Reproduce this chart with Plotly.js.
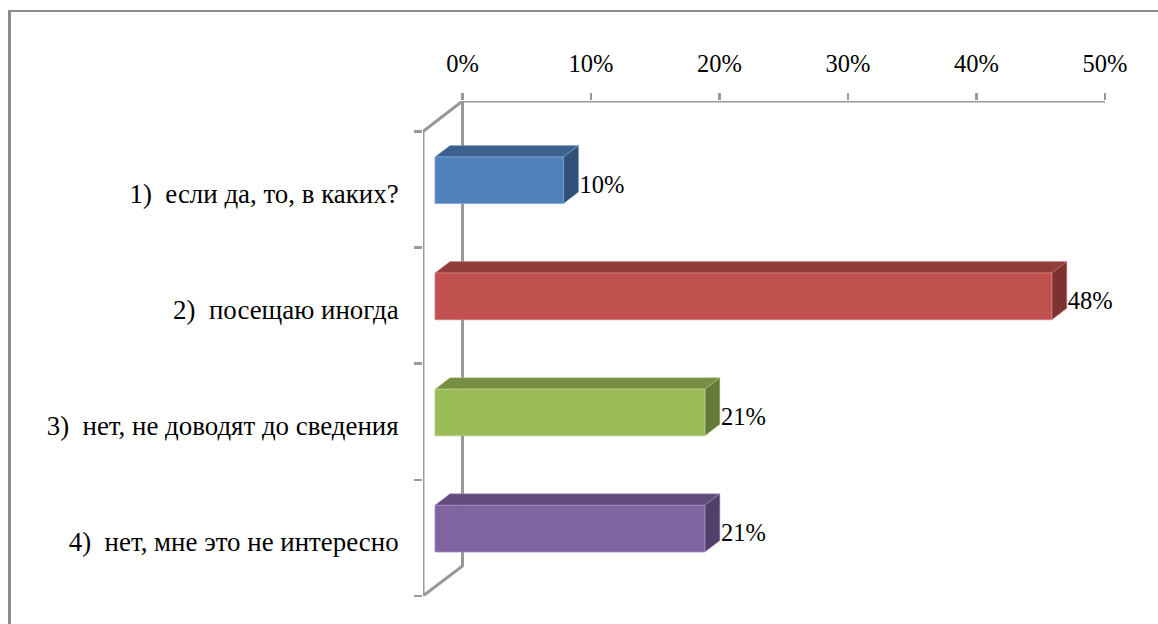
<!DOCTYPE html>
<html>
<head>
<meta charset="utf-8">
<script src="https://cdn.plot.ly/plotly-3.0.1.min.js"></script>
<style>
html,body{margin:0;padding:0;background:#fff;width:1158px;height:624px;overflow:hidden}
#frame{position:absolute;left:8px;top:10px;width:1150px;height:614px;border-left:3px solid #8c8c8c;border-top:2px solid #8c8c8c;box-sizing:border-box}
#chart{position:absolute;left:0;top:0;width:1158px;height:624px}
</style>
</head>
<body>
<div id="frame"></div>
<div id="chart"></div>
<script>
const categories = ["1)\u00a0\u00a0если да, то, в каких?", "2)\u00a0\u00a0посещаю иногда", "3)\u00a0\u00a0нет, не доводят до сведения", "4)\u00a0\u00a0нет, мне это не интересно"];
const values = [10, 48, 21, 21];
const percentTicks = [0, 10, 20, 30, 40, 50];
const frontColors = ["#4F81BD", "#C0504D", "#9BBB59", "#8064A2"];
const topColors = ["#3C618F", "#913D3B", "#768E44", "#614C7B"];
const sideColors = ["#32517A", "#7B3331", "#637A39", "#533F6B"];
const edgeColors = ["#7FA3CF", "#D57F7C", "#B7D07F", "#A28CC0"];

// projection of the chart's fake depth, in axis units
const wallDx = -3.074, wallDy = 0.2624, backBottom = 3.742;
const barBase = -2.14, depthDx = 1.167, depthDy = 0.099;
const barTop = 0.219, barHeight = 0.402;
const FONT = '"Liberation Serif", "Times New Roman", serif';
const GRAY = '#999999';

const traces = [];
// walls and the value axis line, which starts at 0 rather than at the plot edge
traces.push({type:'scatter', mode:'lines',
  x:[50,0,0,wallDx,wallDx,0], y:[-wallDy,-wallDy,backBottom,4,0,-wallDy],
  line:{color:GRAY,width:3}, hoverinfo:'skip', cliponaxis:false});

values.forEach((v,i)=>{
  const yT = i+barTop, yB = yT+barHeight, xL = barBase, xR = barBase+v;
  traces.push({type:'scatter', mode:'lines', fill:'toself', fillcolor:topColors[i],
    x:[xL,xL+depthDx,xR+depthDx,xR,xL], y:[yT,yT-depthDy,yT-depthDy,yT,yT],
    line:{color:edgeColors[i],width:0.5}, hoverinfo:'skip'});
  traces.push({type:'scatter', mode:'lines', fill:'toself', fillcolor:sideColors[i],
    x:[xR,xR+depthDx,xR+depthDx,xR,xR], y:[yT,yT-depthDy,yB-depthDy,yB,yT],
    line:{color:edgeColors[i],width:0.5}, hoverinfo:'skip'});
  traces.push({type:'scatter', mode:'lines', fill:'toself', fillcolor:frontColors[i],
    x:[xL,xR,xR,xL,xL], y:[yT,yT,yB,yB,yT],
    line:{color:edgeColors[i],width:0.8}, hoverinfo:'skip'});
});
traces.push({type:'scatter', mode:'text',
  x:values.map(v=>v+barBase+depthDx+0.08), y:values.map((v,i)=>i+0.475),
  text:values.map(v=>v+'%'), textposition:'middle right',
  textfont:{family:FONT,size:24.5,color:'#000'}, hoverinfo:'skip', cliponaxis:false});
// invisible carrier for the category labels axis
traces.push({type:'scatter', mode:'none', x:[0], y:[0], yaxis:'y2', hoverinfo:'skip'});

const L = 423, R = 1105, T = 100.5, B = 596;
const yRange = [4, -wallDy];
const layout = {
  width:1158, height:624, showlegend:false,
  margin:{l:L, r:1158-R, t:T, b:624-B, pad:0},
  paper_bgcolor:'rgba(0,0,0,0)', plot_bgcolor:'rgba(0,0,0,0)',
  font:{family:FONT,size:24.5,color:'#000'},
  xaxis:{side:'top', range:[wallDx,50], tickmode:'array', tickvals:percentTicks,
    ticktext:percentTicks.map(t=>t+'%'), ticks:'outside', ticklen:7, tickwidth:2.6, tickcolor:GRAY,
    showline:false, showgrid:false, zeroline:false,
    ticklabelstandoff:11, tickfont:{family:FONT,size:24.5,color:'#000'}},
  yaxis:{range:yRange, tickmode:'array', tickvals:[0,1,2,3,4], ticktext:['','','','',''],
    ticks:'outside', ticklen:8, tickwidth:2.6, tickcolor:GRAY, showgrid:false, zeroline:false, showline:false},
  yaxis2:{overlaying:'y', side:'left', range:yRange, tickmode:'array',
    tickvals:categories.map((c,i)=>i+0.535), ticktext:categories,
    ticks:'outside', ticklen:18, tickcolor:'rgba(0,0,0,0)', showgrid:false, zeroline:false, showline:false,
    tickfont:{family:FONT,size:26.9,color:'#000'}}
};
Plotly.newPlot('chart', traces, layout, {displayModeBar:false, staticPlot:true});
</script>
</body>
</html>
